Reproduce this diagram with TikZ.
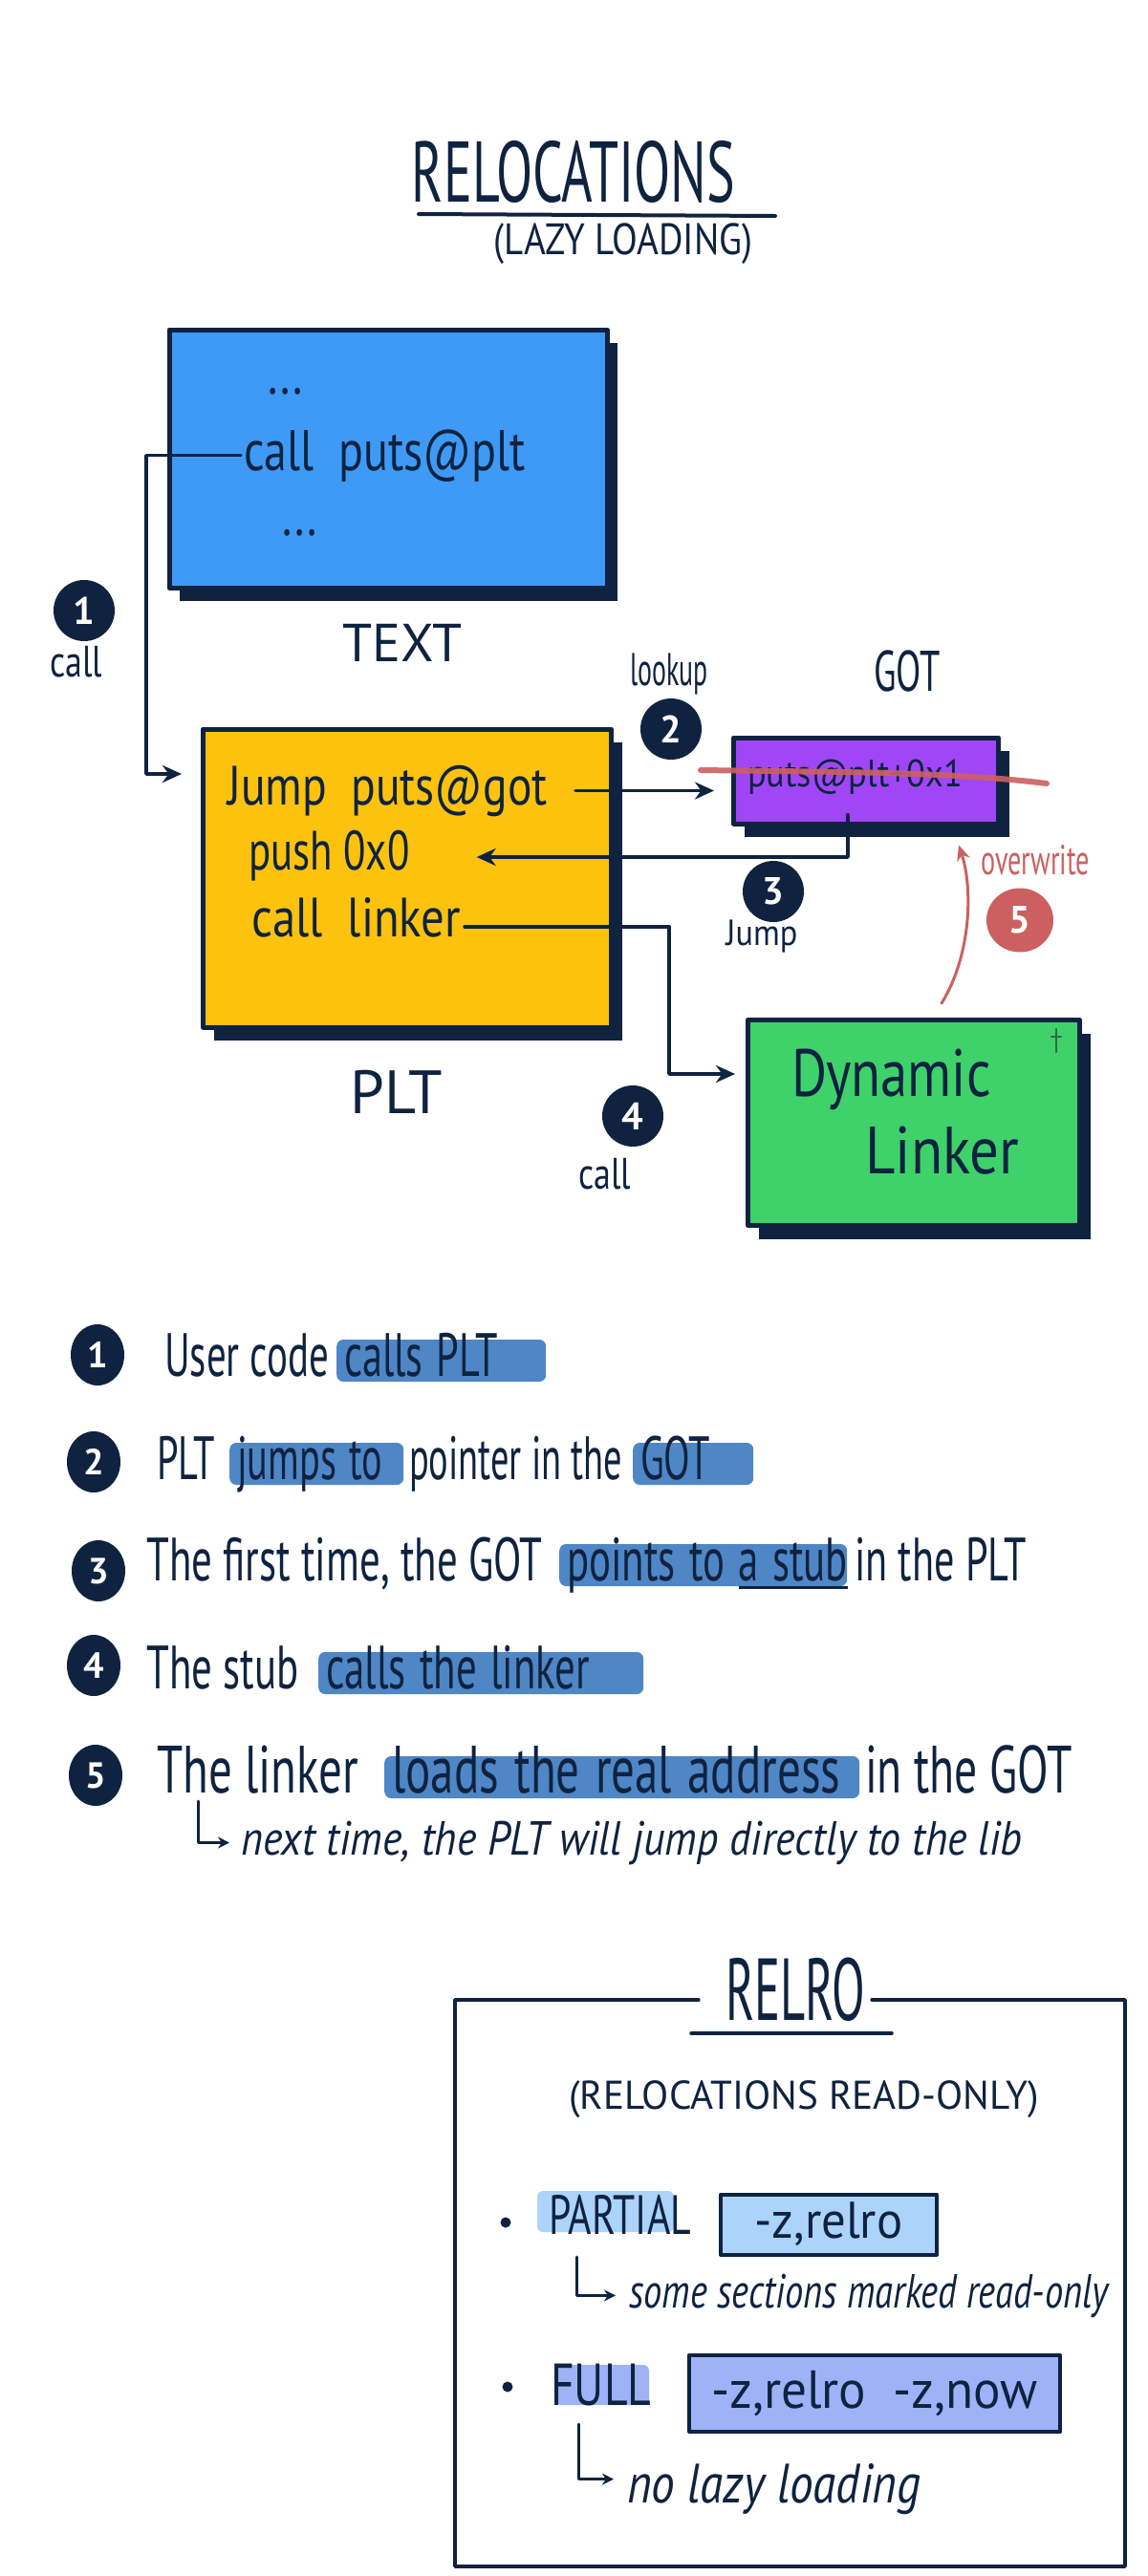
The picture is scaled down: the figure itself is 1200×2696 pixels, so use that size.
\documentclass[tikz,border=0pt]{standalone}
\usepackage{fontspec}
\usepackage{graphicx}
\setmainfont{PT Sans}
\usetikzlibrary{shapes.geometric,arrows.meta,shadows,calc}
\definecolor{navy}{HTML}{0F2340}
\definecolor{boxblue}{HTML}{3F9AF6}
\definecolor{boxyellow}{HTML}{FCC20E}
\definecolor{boxpurple}{HTML}{A046F6}
\definecolor{boxgreen}{HTML}{3FD26B}
\definecolor{redmark}{HTML}{CC6060}
\definecolor{hl}{HTML}{4F86C6}
\definecolor{partialc}{HTML}{ACD4FB}
\definecolor{fullc}{HTML}{9FB2F7}
\definecolor{tickc}{HTML}{2E6A48}
\newcommand\hwx[2]{\scalebox{#1}[1]{#2}}
\newcommand\fsz[1]{\fontsize{#1}{#1}\selectfont}
\newcommand\myul[1]{\setbox0\hbox{#1}\rlap{\color{navy}\rule[-9pt]{\wd0}{3pt}}\box0}
\begin{document}
\begin{tikzpicture}[x=1pt,y=-1pt, line cap=round, line join=round,
  tx/.style={text=navy, inner sep=0pt},
  bw/.style={tx, anchor=base west},
  sbox/.style={draw=navy, line width=5pt, drop shadow={shadow xshift=11pt, shadow yshift=-14pt, fill=navy, opacity=1}},
  arr/.style={draw=navy, line width=3.5pt, -{Stealth[length=20pt,width=18pt]}},
  num/.style={ellipse, fill=navy, text=white, minimum width=64pt, minimum height=64pt, inner sep=0pt, font=\bfseries\fsz{40}},
  lnum/.style={ellipse, fill=navy, text=white, minimum width=56pt, minimum height=64pt, inner sep=0pt, font=\bfseries\fsz{38}},
  lt/.style={bw, font=\fsz{64}},
  lh/.style={lt, fill=hl, rounded corners=7pt, inner xsep=8pt, inner ysep=2pt, text height=36pt, text depth=4pt, text width=#1, align=left},
  hook/.style={draw=navy, line width=3pt, -{Stealth[length=12pt,width=12pt]}},
  optbox/.style={draw=navy, line width=4pt, text=navy}
]
\fill[white] (0,0) rectangle (1200,2696);
\useasboundingbox (0,0) rectangle (1200,2696);

% ---------- title
\node[tx, font=\fsz{90}] (title) at (600,180) {\hwx{0.62}{RELOCATIONS}};
\draw[navy, line width=4pt] (438,224) -- (811,226);
\node[tx, font=\fsz{46}] (sub) at (652,255) {\hwx{0.85}{(LAZY LOADING)}};

% ---------- TEXT box
\node[sbox, fill=boxblue, minimum width=458pt, minimum height=270pt] (textbox) at (406,480) {};
\node[bw, font=\fsz{60}] (d1) at (280,412) {\hwx{0.8}{...}};
\node[bw, font=\fsz{60}] (cp) at (255,492) {\hwx{0.8}{call\ \ puts@plt}};
\node[bw, font=\fsz{60}] (d2) at (295,560) {\hwx{0.8}{...}};
\node[tx, font=\fsz{56}] (textlbl) at (421,673) {TEXT};
\node[num] (n1) at (88,639) {1};
\node[tx, font=\fsz{46}] (c1) at (80,693) {\hwx{0.78}{call}};

% ---------- PLT box
\node[sbox, fill=boxyellow, minimum width=427pt, minimum height=312pt] (plt) at (426,919) {};
\node[bw, font=\fsz{58}] (jmp) at (238,842) {\hwx{0.82}{Jump\ \ puts@got}};
\node[bw, font=\fsz{58}] (push) at (260,910) {\hwx{0.74}{push 0x0}};
\node[bw, font=\fsz{58}] (cl) at (263,980) {\hwx{0.84}{call\ \ linker}};
\node[tx, font=\fsz{64}] (pltlbl) at (415,1143) {PLT};

% ---------- GOT box
\node[sbox, fill=boxpurple, minimum width=277pt, minimum height=90pt] (got) at (906,817) {};
\node[bw, font=\fsz{40}] (gotentry) at (782,823) {\hwx{0.91}{puts@plt+0x1}};
\draw[redmark, line width=6pt, opacity=.9] (733,806) .. controls (880,808) and (1000,808) .. (1095,820);
\node[tx, font=\fsz{60}] (gotlbl) at (949,702) {\hwx{0.64}{GOT}};
\node[tx, font=\fsz{48}] (lookup) at (700,705) {\hwx{0.58}{lookup}};
\node[num] (n2) at (702,763) {2};

% ---------- Dynamic linker box
\node[sbox, fill=boxgreen, minimum width=347pt, minimum height=215pt] (dl) at (956,1175) {};
\node[bw, font=\fsz{70}] (dyn) at (828,1147) {\hwx{0.81}{Dynamic}};
\node[bw, font=\fsz{70}] (lnk) at (905,1228) {\hwx{0.87}{Linker}};
\draw[tickc, line width=2.5pt] (1105,1077) -- (1105,1101);
\draw[tickc, line width=2.5pt] (1100,1085) -- (1110,1085);

% ---------- connectors
\coordinate (k1) at (153,810);
\draw[arr, shorten >=20pt] ([xshift=-3pt]cp.west) -| (k1) -- (k1 -| plt.west);
\draw[arr, shorten >=18pt] ([xshift=29pt]jmp.east) -- (jmp.east -| got.west);
\coordinate (k3) at (887,897);
\draw[arr] ([yshift=12pt]got.south -| k3) -- (k3) -- ([xshift=70pt]push.east |- k3);
\node[num] (n3) at (809,933) {3};
\node[tx, font=\fsz{38}] (jl) at (797,980) {\hwx{0.9}{Jump}};
\coordinate (k4) at (700,1124);
\draw[arr, shorten >=11pt] ([xshift=4pt,yshift=-10pt]cl.east) -| (k4) -- (k4 -| dl.west);
\node[num] (n4) at (662,1168) {4};
\node[tx, font=\fsz{46}] (c4) at (633,1229) {\hwx{0.78}{call}};
\draw[redmark, line width=3pt, -{Stealth[length=16pt,width=14pt]}] ([xshift=29pt,yshift=15pt]dl.north) .. controls (1016,1000) and (1018,930) .. ([xshift=97pt,yshift=-20pt]got.south);
\node[tx, text=redmark, font=\fsz{44}] (ow) at (1083,900) {\hwx{0.64}{overwrite}};
\node[num, fill=redmark, minimum width=70pt, minimum height=67pt] (n5) at (1067,963) {5};

% ---------- list
\node[lnum] (m1) at (102,1418) {1};
\node[lt] (l1a) at (172,1440) {\hwx{0.64}{User code}};
\node[lh=203pt] (l1b) at (352,1440) {\hwx{0.66}{calls PLT}};

\node[lnum] (m2) at (98,1530) {2};
\node[lt] (l2a) at (164,1548) {\hwx{0.63}{PLT}};
\node[lh=166pt] (l2b) at (240,1548) {\hwx{0.63}{jumps to}};
\node[lt] (l2c) at (428,1548) {\hwx{0.6}{pointer in the}};
\node[lh=110pt] (l2d) at (662,1548) {\hwx{0.63}{GOT}};

\node[lnum] (m3) at (103,1644) {3};
\node[lt] (l3a) at (153,1654) {\hwx{0.67}{The first time, the GOT}};
\node[lh=285pt] (l3b) at (585,1654) {\hwx{0.67}{points to \myul{a stub}}};
\node[lt] (l3c) at (894,1654) {\hwx{0.66}{in the PLT}};

\node[lnum] (m4) at (98,1743) {4};
\node[lt] (l4a) at (153,1767) {\hwx{0.67}{The stub}};
\node[lh=324pt] (l4b) at (333,1767) {\hwx{0.67}{calls the linker}};

\node[lnum] (m5) at (100,1858) {5};
\node[lt, font=\fsz{70}] (l5a) at (164,1876) {\hwx{0.7}{The linker}};
\node[lh=481pt, font=\fsz{70}] (l5b) at (402,1876) {\hwx{0.7}{loads the real address}};
\node[lt, font=\fsz{70}] (l5c) at (905,1876) {\hwx{0.68}{in the GOT}};

\node[bw, font=\itshape\fsz{50}] (nt) at (252,1941) {\hwx{0.88}{next time, the PLT will jump directly to the lib}};
\draw[hook] (207,1885) |- ([xshift=-12pt]nt.west);

% ---------- RELRO
\node[tx, font=\fsz{92}] (relro) at (832,2082) {\hwx{0.55}{RELRO}};
\draw[navy, line width=3.5pt] ([xshift=-28pt]relro.west |- 0,2093) -- (476,2093) -- (476,2686) -- (1177,2686) -- (1177,2093) -- ([xshift=7pt]relro.east |- 0,2093);
\draw[navy, line width=3.5pt] (723,2128) -- (933,2128);
\node[tx, font=\fsz{42}] (rsub) at (841,2197) {\hwx{0.98}{(RELOCATIONS READ-ONLY)}};

\fill[navy] (529,2326) circle (5.5pt);
\fill[partialc, rounded corners=6pt] (562,2293) rectangle (705,2336);
\node[bw, font=\fsz{58}] (partial) at (574,2338) {\hwx{0.72}{PARTIAL}};
\node[optbox, fill=partialc, minimum width=226pt, minimum height=63pt, font=\fsz{54}] (opt1) at (867,2328) {\hwx{0.94}{-z,relro}};
\node[bw, font=\itshape\fsz{50}] (some) at (658,2415) {\hwx{0.77}{some sections marked read-only}};
\draw[hook] (603,2362) |- ([xshift=-14pt]some.west);

\fill[navy] (531,2498) circle (5.5pt);
\fill[fullc, rounded corners=6pt] (580,2475) rectangle (679,2517);
\node[bw, font=\fsz{62}] (full) at (576,2517) {\hwx{0.77}{FULL}};
\node[optbox, fill=fullc, minimum width=388pt, minimum height=80pt, font=\fsz{56}] (opt2) at (915,2505) {\hwx{0.95}{-z,relro\ \ -z,now}};
\node[bw, font=\itshape\fsz{58}] (nolazy) at (656,2619) {\hwx{0.85}{no lazy loading}};
\draw[hook] (605,2537) |- ([xshift=-14pt,yshift=10pt]nolazy.west);
\end{tikzpicture}
\end{document}
